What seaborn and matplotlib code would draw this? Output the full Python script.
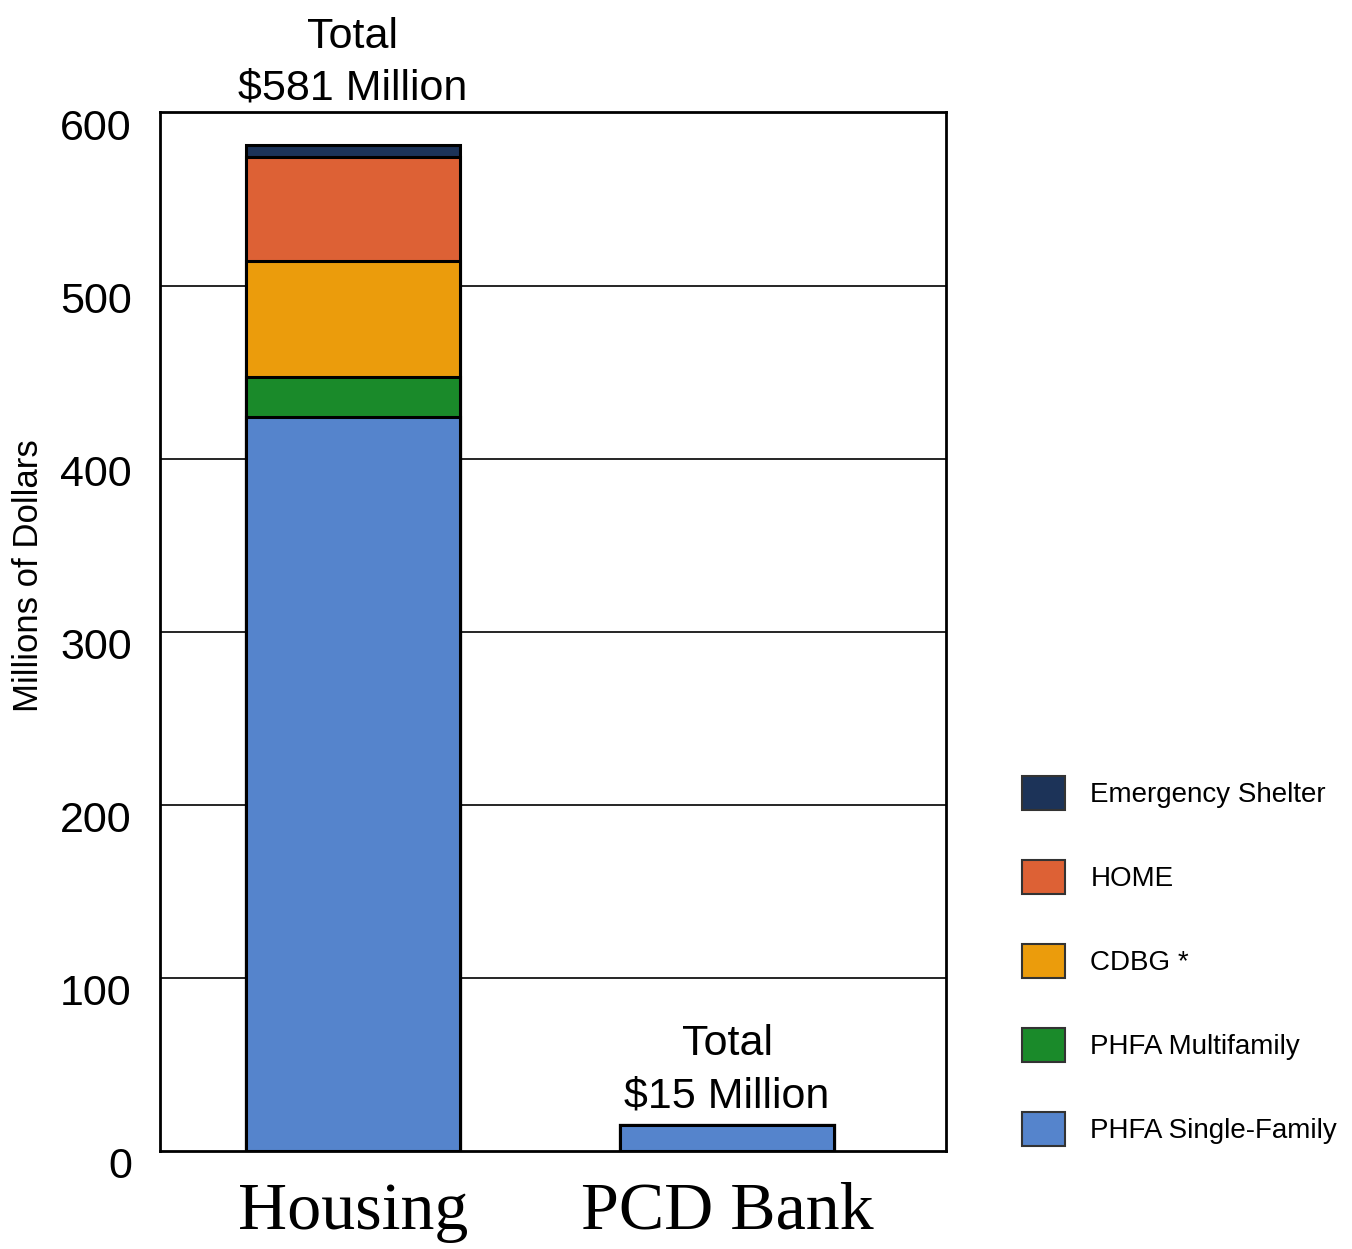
import pandas as pd
import matplotlib
matplotlib.use("Agg")
import matplotlib.pyplot as plt
import matplotlib.patches as mpatches
from matplotlib.transforms import ScaledTranslation
import seaborn as sns

# data (millions of dollars)
programs = ["Housing", "PCD Bank"]
single_family = [424, 15]
multifamily = [23, 0]
cdbg = [67, 0]
home = [60, 0]
emergency = [7, 0]
totals_text = ["Total\n$581 Million", "Total\n$15 Million"]

series_names = ["PHFA Single-Family", "PHFA Multifamily", "CDBG *", "HOME", "Emergency Shelter"]
series_vals = [single_family, multifamily, cdbg, home, emergency]
colors = ["#5584cc", "#1a8a2a", "#eb9c0c", "#dd6135", "#1c3358"]

sans = ["Liberation Sans", "DejaVu Sans"]
serif = ["Liberation Serif", "DejaVu Serif"]

sns.set_style("white")
plt.rcParams["font.family"] = sans
plt.rcParams["text.color"] = "black"
plt.rcParams["axes.labelcolor"] = "black"
plt.rcParams["xtick.color"] = "black"
plt.rcParams["ytick.color"] = "black"

df = pd.DataFrame(dict(zip(series_names, series_vals)), index=programs)
cum = df.cumsum(axis=1)

fig = plt.figure(figsize=(13.52, 12.49), dpi=100)
ax = fig.add_axes([0.118, 0.0785, 0.582, 0.8315])

# grid behind the bars
for v in [100, 200, 300, 400, 500]:
    ax.axhline(v, color="black", lw=1.2, zorder=0)

# stacked bars: draw cumulative totals, tallest first
for name, col in reversed(list(zip(series_names, colors))):
    d = pd.DataFrame({"program": programs, "value": cum[name].values})
    sns.barplot(data=d, x="program", y="value", color=col, width=0.572,
                edgecolor="black", linewidth=2.2, saturation=1, ax=ax, zorder=2)

ax.set_xlim(-0.516, 1.586)
ax.set_ylim(0, 600)
ax.set_yticks([0, 100, 200, 300, 400, 500, 600])
ax.tick_params(axis="y", length=0, pad=20)
ax.tick_params(axis="x", length=0, pad=22)
shift = ScaledTranslation(0, -12 / 100, fig.dpi_scale_trans)
for lab in ax.get_yticklabels():
    lab.set_fontsize(31)
    lab.set_transform(lab.get_transform() + shift)
for lab in ax.get_xticklabels():
    lab.set_fontfamily(serif)
    lab.set_fontsize(49)
ax.set_xlabel("")
ax.set_ylabel("Millions of Dollars", fontsize=25)
ax.yaxis.set_label_coords(-0.145, 0.554)

for s in ax.spines.values():
    s.set_visible(True)
    s.set_color("black")
    s.set_linewidth(2)

# total annotations
bar_totals = cum["Emergency Shelter"].values
offsets = [21, 5]
for i, (t, txt) in enumerate(zip(bar_totals, totals_text)):
    ax.text(i, t + offsets[i], txt, ha="center", va="bottom", fontsize=31,
            linespacing=1.4, clip_on=False)

handles = [mpatches.Patch(facecolor=c, edgecolor="#333333", linewidth=1.5, label=n)
           for n, c in zip(series_names, colors)]
handles = handles[::-1]
fig.legend(handles=handles, loc="center left", bbox_to_anchor=(0.748, 0.2306),
           frameon=False, fontsize=20, handlelength=1.55, handleheight=1.55,
           labelspacing=1.77, handletextpad=0.9, borderaxespad=0)

fig.savefig("out.png", dpi=100)
